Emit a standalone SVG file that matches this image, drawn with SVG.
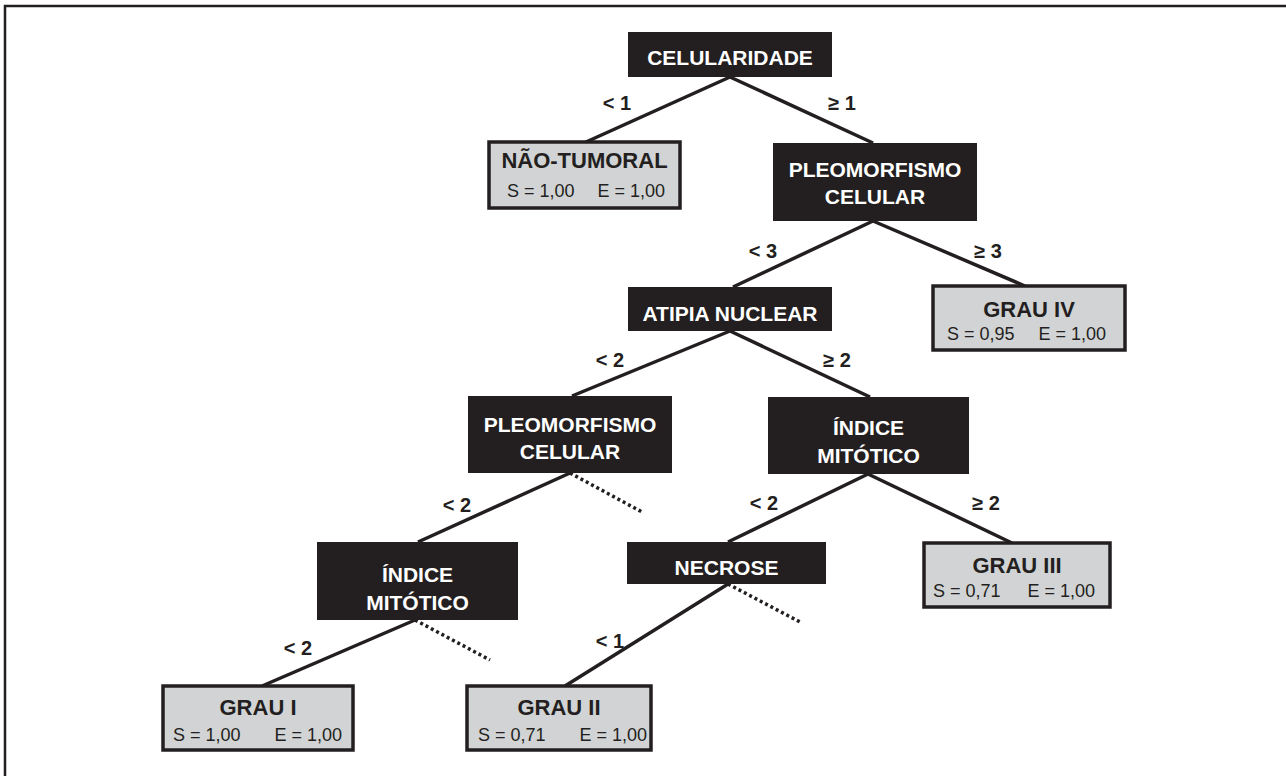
<svg xmlns="http://www.w3.org/2000/svg" width="1286" height="776" viewBox="0 0 1286 776">
<style>
text{font-family:"Liberation Sans",Arial,sans-serif}
.dk{fill:#231f20}
.gr{fill:#d1d3d4;stroke:#231f20;stroke-width:3.5}
.wt{fill:#fff;font-weight:bold;font-size:21px;text-anchor:middle}
.tt{fill:#231f20;font-weight:bold;font-size:22px;text-anchor:middle}
.se{fill:#231f20;font-size:18px}
.lb{fill:#231f20;font-weight:bold;font-size:20px;text-anchor:middle}
.ln{stroke:#231f20;stroke-width:3.5;fill:none}
.dt{stroke:#231f20;stroke-width:3.5;fill:none;stroke-dasharray:3 3}
</style>
<rect width="1286" height="776" fill="#fff"/>
<path d="M5,776 V6 H1286" fill="none" stroke="#231f20" stroke-width="2.5"/>
<g id="connectors">
<line class="ln" x1="730" y1="77" x2="586" y2="142"/>
<line class="ln" x1="730" y1="77" x2="873" y2="143"/>
<line class="ln" x1="873" y1="221" x2="733" y2="287"/>
<line class="ln" x1="873" y1="221" x2="1025" y2="286"/>
<line class="ln" x1="730" y1="331" x2="572" y2="396"/>
<line class="ln" x1="730" y1="331" x2="870" y2="397"/>
<line class="ln" x1="570" y1="473" x2="418" y2="542"/>
<line class="dt" x1="570" y1="473" x2="642" y2="512"/>
<line class="ln" x1="868" y1="474" x2="728" y2="542"/>
<line class="ln" x1="868" y1="474" x2="1012" y2="543"/>
<line class="ln" x1="415" y1="620" x2="262" y2="686"/>
<line class="dt" x1="415" y1="620" x2="490" y2="660"/>
<line class="ln" x1="728" y1="584" x2="565" y2="686"/>
<line class="dt" x1="728" y1="584" x2="800" y2="622"/>
<text class="lb" x="617" y="110">&lt; 1</text>
<text class="lb" x="842" y="110">≥ 1</text>
<text class="lb" x="763" y="258">&lt; 3</text>
<text class="lb" x="988" y="258">≥ 3</text>
<text class="lb" x="610" y="367">&lt; 2</text>
<text class="lb" x="837" y="367">≥ 2</text>
<text class="lb" x="457" y="512">&lt; 2</text>
<text class="lb" x="764" y="510">&lt; 2</text>
<text class="lb" x="986" y="510">≥ 2</text>
<text class="lb" x="298" y="655">&lt; 2</text>
<text class="lb" x="610" y="648">&lt; 1</text>
</g>
<g id="celularidade">
<rect class="dk" x="628" y="32" width="204" height="45"/>
<text class="wt" x="730" y="65">CELULARIDADE</text>
</g>
<g id="nao-tumoral">
<rect class="gr" x="489" y="142" width="191" height="66"/>
<text class="tt" x="584.5" y="168">NÃO-TUMORAL</text>
<text class="se" x="507" y="197">S = 1,00</text>
<text class="se" x="665" y="197" text-anchor="end">E = 1,00</text>
</g>
<g id="pleomorfismo1">
<rect class="dk" x="773" y="143" width="204" height="78"/>
<text class="wt" x="875" y="177">PLEOMORFISMO</text>
<text class="wt" x="875" y="204">CELULAR</text>
</g>
<g id="atipia">
<rect class="dk" x="628" y="287" width="204" height="44"/>
<text class="wt" x="730" y="321">ATIPIA NUCLEAR</text>
</g>
<g id="grau4">
<rect class="gr" x="933" y="286" width="192" height="64"/>
<text class="tt" x="1029" y="317">GRAU IV</text>
<text class="se" x="947" y="340">S = 0,95</text>
<text class="se" x="1106" y="340" text-anchor="end">E = 1,00</text>
</g>
<g id="pleomorfismo2">
<rect class="dk" x="468" y="396" width="204" height="77"/>
<text class="wt" x="570" y="432">PLEOMORFISMO</text>
<text class="wt" x="570" y="459">CELULAR</text>
</g>
<g id="indice1">
<rect class="dk" x="768" y="397" width="201" height="77"/>
<text class="wt" x="868.5" y="435">ÍNDICE</text>
<text class="wt" x="868.5" y="463">MITÓTICO</text>
</g>
<g id="indice2">
<rect class="dk" x="317" y="542" width="201" height="78"/>
<text class="wt" x="417.5" y="582">ÍNDICE</text>
<text class="wt" x="417.5" y="610">MITÓTICO</text>
</g>
<g id="necrose">
<rect class="dk" x="627" y="542" width="199" height="42"/>
<text class="wt" x="726.5" y="575">NECROSE</text>
</g>
<g id="grau3">
<rect class="gr" x="924" y="543" width="186" height="64"/>
<text class="tt" x="1017" y="573">GRAU III</text>
<text class="se" x="933" y="597">S = 0,71</text>
<text class="se" x="1095" y="597" text-anchor="end">E = 1,00</text>
</g>
<g id="grau1">
<rect class="gr" x="163" y="686" width="190" height="64"/>
<text class="tt" x="258" y="715">GRAU I</text>
<text class="se" x="173" y="741">S = 1,00</text>
<text class="se" x="342" y="741" text-anchor="end">E = 1,00</text>
</g>
<g id="grau2">
<rect class="gr" x="467" y="686" width="184" height="64"/>
<text class="tt" x="559" y="715">GRAU II</text>
<text class="se" x="478" y="741">S = 0,71</text>
<text class="se" x="647" y="741" text-anchor="end">E = 1,00</text>
</g>
</svg>
